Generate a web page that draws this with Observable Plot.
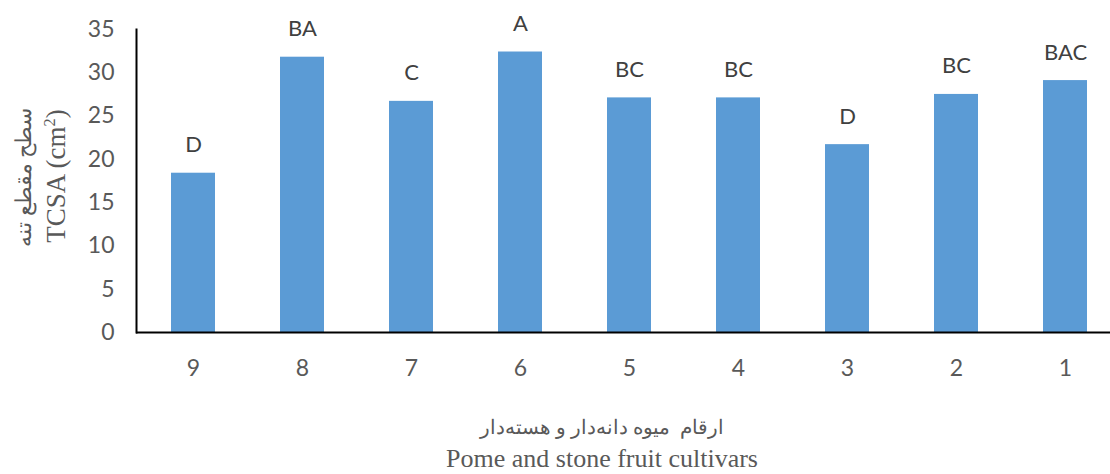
<!DOCTYPE html>
<html>
<head>
<meta charset="utf-8">
<script src="https://cdn.jsdelivr.net/npm/d3@7"></script>
<script src="https://cdn.jsdelivr.net/npm/@observablehq/plot@0.6"></script>
<style>
  html, body { margin: 0; padding: 0; background: #fff; }
  #wrap { position: relative; width: 1110px; height: 474px; overflow: hidden; background: #fff; }
  #chart { position: absolute; left: 0; top: 0; width: 1122px; }
  #chart svg { max-width: none !important; }
  .ylab { position: absolute; white-space: pre; line-height: 1; transform: translate(-50%, -50%) rotate(-90deg); color: #595959; font-family: "Liberation Serif", "DejaVu Serif", serif; }
  .xlab { position: absolute; white-space: pre; line-height: 1; color: #595959; font-family: "Liberation Serif", "DejaVu Serif", serif; transform: translate(-50%, -50%); }
</style>
</head>
<body>
<div id="wrap">
  <div id="chart"></div>
  <div class="ylab" style="left:24px; top:177px; font-size:22px;" dir="rtl">سطح مقطع تنه</div>
  <div class="ylab" style="left:56px; top:176px; font-size:27px;">TCSA (cm<sup style="font-size:0.6em">2</sup>)</div>
  <div class="xlab" dir="rtl" style="left:602px; top:427px; font-size:20px;">ارقام  میوه دانه‌دار و هسته‌دار</div>
  <div class="xlab" style="left:602px; top:459px; font-size:26px;">Pome and stone fruit cultivars</div>
</div>
<script>
const cultivars = ["9", "8", "7", "6", "5", "4", "3", "2", "1"];
const tcsa = [18.4, 31.8, 26.7, 32.4, 27.1, 27.1, 21.7, 27.5, 29.1];
const letters = ["D", "BA", "C", "A", "BC", "BC", "D", "BC", "BAC"];
const yTicks = [0, 5, 10, 15, 20, 25, 30, 35];

const data = cultivars.map((c, i) => ({cultivar: c, value: tcsa[i], letter: letters[i]}));

const chart = Plot.plot({
  width: 1122,
  height: 390,
  marginLeft: 136,
  marginRight: 1,
  marginTop: 29,
  marginBottom: 58,
  style: {fontFamily: "Lato, 'Open Sans', sans-serif", fontSize: "23px", color: "#595959", background: "#fff", maxWidth: "none"},
  x: {domain: cultivars, paddingInner: 0.6, paddingOuter: 0.3, label: null},
  y: {domain: [0, 35], label: null},
  marks: [
    Plot.barY(data, {x: "cultivar", y: "value", fill: "#5B9BD5"}),
    Plot.text(data, {x: "cultivar", y: "value", text: "letter", dy: -28, fill: "#404040", fontSize: 22, lineAnchor: "middle"}),
    Plot.axisY(yTicks, {tickSize: 0, tickPadding: 22, label: null, fill: "#595959"}),
    Plot.axisX({tickSize: 0, tickPadding: 27, label: null, fill: "#595959"}),
    Plot.ruleY([0], {stroke: "#000", strokeWidth: 2}),
    Plot.frame({anchor: "left", stroke: "#000", strokeWidth: 2})
  ]
});
document.getElementById("chart").appendChild(chart);
</script>
</body>
</html>
